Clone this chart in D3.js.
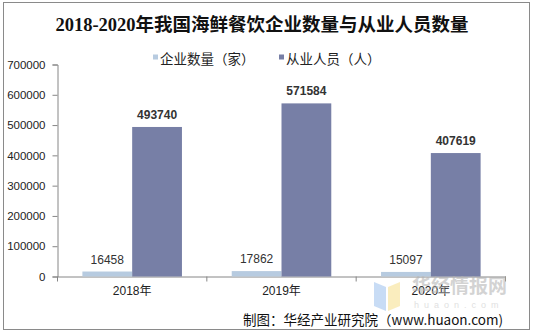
<!DOCTYPE html>
<html><head><meta charset="utf-8">
<script src="https://cdn.jsdelivr.net/npm/d3@7"></script>
<style>body{margin:0;background:#fff}svg{display:block}</style>
</head><body><svg id="c" width="533" height="336"></svg>
<script>
const title = "2018-2020年我国海鲜餐饮企业数量与从业人员数量";
const categories = ["2018年", "2019年", "2020年"];
const seriesNames = ["企业数量（家）", "从业人员（人）"];
const companies = [16458, 17862, 15097];
const employees = [493740, 571584, 407619];
const yTicks = [0, 100000, 200000, 300000, 400000, 500000, 600000, 700000];
const source = "制图：华经产业研究院（www.huaon.com)";

const colors = ["#b7cbe0", "#777fa6"];
const svg = d3.select("#c");
const font = "Arial, 'Liberation Sans', 'Noto Sans CJK SC', sans-serif";

svg.append("rect").attr("x", 3.5).attr("y", 2.5).attr("width", 526).attr("height", 327)
  .attr("fill", "#fff").attr("stroke", "#8a8a8a").attr("stroke-width", 1);

svg.append("text").attr("x", 262).attr("y", 31).attr("text-anchor", "middle")
  .attr("font-family", "'Liberation Serif', 'Noto Sans CJK SC', serif").attr("font-weight", "bold")
  .attr("font-size", 18.5).attr("fill", "#111").text(title);

const x0 = d3.scaleBand().domain(categories).range([57.5, 505.5]).padding(0);
const x1 = d3.scaleBand().domain([0, 1]).range([x0.bandwidth() / 6, x0.bandwidth() * 5 / 6]).padding(0);
const y = d3.scaleLinear().domain([0, 700000]).range([276.5, 64.5]);

// legend
const lg = [[153, 160], [279, 286]];
seriesNames.forEach((n, i) => {
  svg.append("rect").attr("x", lg[i][0]).attr("y", 54.5).attr("width", 5).attr("height", 5).attr("fill", colors[i]);
  svg.append("text").attr("x", lg[i][1]).attr("y", 63.5).attr("font-family", "'Noto Sans CJK SC', sans-serif")
    .attr("font-size", 13.5).attr("fill", "#222").text(n);
});

// y axis
const yAxis = d3.axisLeft(y).tickValues(yTicks).tickSize(5).tickPadding(7).tickFormat(d3.format("d"));
const ya = svg.append("g").attr("transform", "translate(57.5,0)").call(yAxis);
ya.select(".domain").attr("stroke", "#868686");
ya.selectAll(".tick line").attr("stroke", "#868686");
ya.selectAll(".tick text").attr("font-family", font).attr("font-size", 11.5).attr("fill", "#222");

// x axis
const xAxis = d3.axisBottom(x0).tickSize(0).tickPadding(10);
const xa = svg.append("g").attr("transform", "translate(0,276.5)").call(xAxis);
xa.select(".domain").attr("stroke", "#868686");
xa.selectAll(".tick text").attr("font-family", font).attr("font-size", 12).attr("fill", "#222");
const bounds = [0, 1, 2, 3].map(i => 57.5 + i * x0.step());
xa.selectAll(".bt").data(bounds).enter().append("line").attr("class", "bt")
  .attr("x1", d => d).attr("x2", d => d).attr("y1", 0).attr("y2", 5).attr("stroke", "#868686");

// bars
const series = [companies, employees];
series.forEach((vals, si) => {
  const g = svg.append("g");
  g.selectAll("rect").data(vals).enter().append("rect")
    .attr("x", (d, i) => x0(categories[i]) + x1(si))
    .attr("y", d => y(d)).attr("width", x1.bandwidth())
    .attr("height", d => y(0) - y(d)).attr("fill", colors[si]);
  g.selectAll("text").data(vals).enter().append("text")
    .attr("x", (d, i) => x0(categories[i]) + x1(si) + x1.bandwidth() / 2)
    .attr("y", d => y(d) - 8).attr("text-anchor", "middle")
    .attr("font-family", font).attr("font-size", 12)
    .attr("font-weight", si === 1 ? "bold" : "normal").attr("fill", "#333").text(d => d);
});

// watermark
const wm = svg.append("g").attr("opacity", 0.55);
wm.append("path").attr("d", "M374,282 L386,287 L386,311 L374,306 Z").attr("fill", "#9cc0ee");
wm.append("path").attr("d", "M388,287 L400,282 L400,306 L388,311 Z").attr("fill", "#f7e08a");
wm.append("text").attr("x", 412).attr("y", 293).attr("font-family", "'Noto Sans CJK SC', sans-serif")
  .attr("font-weight", "bold").attr("font-size", 19).attr("fill", "#b0b0b0").text("华经情报网");
wm.append("text").attr("x", 414).attr("y", 308).attr("font-family", font).attr("letter-spacing", 5)
  .attr("font-size", 9).attr("fill", "#c8c8c8").text("huaon.com");

svg.append("text").attr("x", 503).attr("y", 325).attr("text-anchor", "end")
  .attr("font-family", "'Noto Sans CJK SC', Arial, sans-serif").attr("font-size", 13.5).attr("fill", "#111").text(source);
</script></body></html>
